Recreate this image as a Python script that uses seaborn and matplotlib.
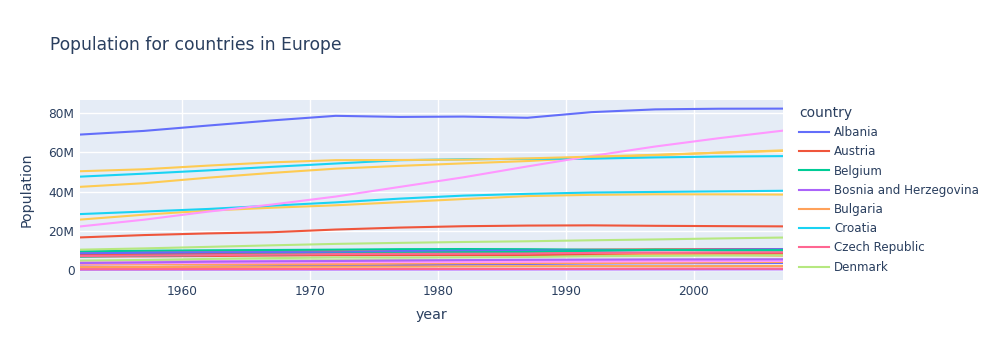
import matplotlib
matplotlib.use("Agg")
import matplotlib.pyplot as plt
import seaborn as sns
import pandas as pd
from matplotlib.ticker import FuncFormatter

years = [1952, 1957, 1962, 1967, 1972, 1977, 1982, 1987, 1992, 1997, 2002, 2007]

countries = ["Albania", "Austria", "Belgium", "Bosnia and Herzegovina", "Bulgaria", "Croatia",
             "Czech Republic", "Denmark", "Finland", "France", "Germany", "Greece", "Hungary",
             "Iceland", "Ireland", "Italy", "Montenegro", "Netherlands", "Norway", "Poland",
             "Portugal", "Romania", "Serbia", "Slovak Republic", "Slovenia", "Spain", "Sweden",
             "Switzerland", "Turkey", "United Kingdom"]

pop_albania = [1282697, 1476505, 1728137, 1984060, 2263554, 2509048, 2780097, 3075321, 3326498, 3428038, 3508512, 3600523]
pop_austria = [6927772, 6965860, 7129864, 7376998, 7544201, 7568430, 7574613, 7578903, 7914969, 8069876, 8148312, 8199783]
pop_belgium = [8730405, 8989111, 9218400, 9556500, 9709100, 9821800, 9856303, 9870200, 10045622, 10199787, 10311970, 10392226]
pop_bosnia = [2791000, 3076000, 3349000, 3585000, 3819000, 4086000, 4172693, 4338977, 4256013, 3607000, 4165416, 4552198]
pop_bulgaria = [7274900, 7651254, 7867931, 8144464, 8401325, 8676093, 8892098, 8971958, 8658506, 8066057, 7661799, 7322858]
pop_croatia = [3882229, 3991242, 4076557, 4174366, 4225310, 4318673, 4413368, 4484310, 4494013, 4444595, 4481020, 4493312]
pop_czech = [9125183, 9513758, 9620282, 9835109, 9862158, 10161915, 10303704, 10311597, 10315702, 10300707, 10256295, 10228744]
pop_denmark = [4334000, 4487831, 4646899, 4838800, 4991596, 5088419, 5117810, 5127024, 5171393, 5283663, 5374693, 5468120]
pop_finland = [4090500, 4324000, 4491443, 4605744, 4639657, 4738902, 4826933, 4931729, 5041039, 5134406, 5193039, 5238460]
pop_france = [42459667, 44310863, 47124000, 49569000, 51732000, 53165019, 54433565, 55630100, 57374179, 58623428, 59925035, 61083916]
pop_germany = [69145952, 71019069, 73739117, 76368453, 78717088, 78160773, 78335266, 77718298, 80597764, 82011073, 82350671, 82400996]
pop_greece = [7733250, 8096218, 8448233, 8716441, 8888628, 9308479, 9786480, 9974490, 10325429, 10502372, 10603863, 10706290]
pop_hungary = [9504000, 9839000, 10063000, 10223422, 10394091, 10637171, 10705535, 10612740, 10348684, 10244684, 10083313, 9956108]
pop_iceland = [147962, 165110, 182053, 198676, 209275, 221823, 233997, 244676, 259012, 271192, 288030, 301931]
pop_ireland = [2952156, 2878220, 2830000, 2900100, 3024400, 3271900, 3480000, 3539900, 3557761, 3667233, 3879155, 4109086]
pop_italy = [47666000, 49182000, 50843200, 52667100, 54365564, 56059245, 56535636, 56729703, 56840847, 57479469, 57926999, 58147733]
pop_montenegro = [413834, 442829, 474528, 501035, 527678, 560073, 562548, 569473, 621621, 692651, 720230, 684736]
pop_netherlands = [10381988, 11026383, 11805689, 12596822, 13329874, 13852989, 14310401, 14665278, 15174244, 15604464, 16122830, 16570613]
pop_norway = [3327728, 3491938, 3638919, 3786019, 3933004, 4043205, 4114787, 4186147, 4286357, 4405672, 4535591, 4627926]
pop_poland = [25730551, 28235346, 30329617, 31785378, 33039545, 34621254, 36227381, 37740710, 38370697, 38654957, 38625976, 38518241]
pop_portugal = [8526050, 8817650, 9019800, 9103000, 8970450, 9662600, 9859650, 9915289, 9927680, 10156415, 10433867, 10642836]
pop_romania = [16630000, 17829327, 18680721, 19284814, 20662648, 21658597, 22356726, 22686371, 22797027, 22562458, 22404337, 22276056]
pop_serbia = [6860147, 7271135, 7616060, 7971222, 8313288, 8686367, 9032824, 9230783, 9826397, 10336594, 10111559, 10150265]
pop_slovakia = [3558137, 3844277, 4237384, 4442238, 4593433, 4827803, 5048043, 5199318, 5302888, 5383010, 5410052, 5447502]
pop_slovenia = [1489518, 1533070, 1582962, 1646912, 1694510, 1746919, 1861252, 1945870, 1999210, 1999210, 2011497, 2009245]
pop_spain = [28549870, 29841614, 31158061, 32850275, 34513161, 36439000, 37983310, 38880702, 39549438, 39855442, 40152517, 40448191]
pop_sweden = [7124673, 7363802, 7561588, 7867931, 8122293, 8251648, 8325260, 8421403, 8718867, 8897619, 8954175, 9031088]
pop_switzerland = [4815000, 5126000, 5666000, 6063000, 6401400, 6316424, 6468126, 6649942, 6995447, 7193761, 7361757, 7554661]
pop_turkey = [22235677, 25670939, 29788695, 33411317, 37492953, 42404033, 47328791, 52881328, 58179144, 63047647, 67308928, 71158647]
pop_uk = [50430000, 51430000, 53292000, 54959000, 56079000, 56179000, 56339704, 56981620, 57866349, 58808266, 59912431, 60776238]

series = [pop_albania, pop_austria, pop_belgium, pop_bosnia, pop_bulgaria, pop_croatia, pop_czech,
          pop_denmark, pop_finland, pop_france, pop_germany, pop_greece, pop_hungary, pop_iceland,
          pop_ireland, pop_italy, pop_montenegro, pop_netherlands, pop_norway, pop_poland,
          pop_portugal, pop_romania, pop_serbia, pop_slovakia, pop_slovenia, pop_spain, pop_sweden,
          pop_switzerland, pop_turkey, pop_uk]

rows = []
for c, vals in zip(countries, series):
    for y, v in zip(years, vals):
        rows.append({"country": c, "year": y, "pop": v})
df = pd.DataFrame(rows)

plotly_colors = ["#636EFA", "#EF553B", "#00CC96", "#AB63FA", "#FFA15A",
                 "#19D3F3", "#FF6692", "#B6E880", "#FF97FF", "#FECB52"]
palette = {c: plotly_colors[i % 10] for i, c in enumerate(countries)}

plt.rcParams["font.family"] = ["DejaVu Sans"]
text_color = "#2a3f5f"
W, H = 1004, 360
fig = plt.figure(figsize=(W / 100, H / 100), dpi=100)
ax = fig.add_axes([80 / W, 1 - 279.5 / H, (783 - 80) / W, (279.5 - 100) / H])
ax.set_facecolor("#E5ECF6")

sns.lineplot(data=df, x="year", y="pop", hue="country", hue_order=countries,
             palette=palette, linewidth=1.5, ax=ax, legend="full", sort=False)

handles, labels = ax.get_legend_handles_labels()
ax.get_legend().remove()

ax.set_xlim(1952, 2007)
ax.set_ylim(-4.85e6, 86.8e6)
ax.set_xticks([1960, 1970, 1980, 1990, 2000])
ax.set_yticks([0, 20e6, 40e6, 60e6, 80e6])
ax.yaxis.set_major_formatter(FuncFormatter(lambda v, p: "0" if v == 0 else f"{int(v/1e6)}M"))
ax.grid(True, color="white", linewidth=1)
ax.set_axisbelow(True)
for s in ax.spines.values():
    s.set_visible(False)
ax.tick_params(length=0, labelsize=8.7, colors=text_color)
ax.tick_params(axis="x", pad=4)
ax.tick_params(axis="y", pad=4)
ax.set_xlabel("year", fontsize=10.2, color=text_color, labelpad=7)
ax.set_ylabel("Population", fontsize=10.2, color=text_color, labelpad=11)

fig.text(50 / W, 1 - 45 / H, "Population for countries in Europe", fontsize=12.3,
         color=text_color, va="center", ha="left")

leg = fig.legend(handles[:8], labels[:8], title="country", loc="upper left",
                 bbox_to_anchor=(799 / W, 1 - 106 / H), frameon=False, fontsize=8.6,
                 title_fontsize=10.0, handlelength=2.5, handletextpad=0.45,
                 labelspacing=0.52, borderaxespad=0, borderpad=0)
leg._legend_box.align = "left"
for t in leg.get_texts():
    t.set_color(text_color)
leg.get_title().set_color(text_color)
for h in leg.legend_handles:
    h.set_linewidth(1.5)

fig.savefig("out.png", dpi=100)
